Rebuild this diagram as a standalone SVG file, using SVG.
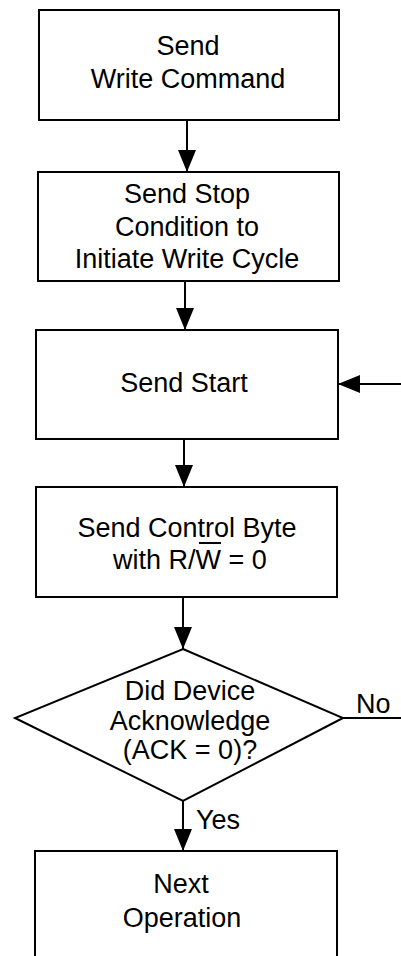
<svg xmlns="http://www.w3.org/2000/svg" width="401" height="956" viewBox="0 0 401 956">
<defs>
<marker id="ah" markerUnits="userSpaceOnUse" markerWidth="22" markerHeight="18" refX="22" refY="9" orient="auto">
<path d="M0,0 L22,9 L0,18 Z" fill="#000"/>
</marker>
<style>
.box{fill:#fff;stroke:#000;stroke-width:2}
.t{font-family:"Liberation Sans",Arial,sans-serif;font-size:27px;fill:#000;text-anchor:middle}
.l{font-family:"Liberation Sans",Arial,sans-serif;font-size:27px;fill:#000}
.c{stroke:#000;stroke-width:2;fill:none}
</style>
</defs>
<rect width="401" height="956" fill="#fff"/>
<g id="n1">
<rect class="box" x="39" y="10" width="300" height="110"/>
<text class="t" x="188" y="55">Send</text>
<text class="t" x="188" y="88">Write Command</text>
</g>
<g id="n2">
<rect class="box" x="38" y="172" width="301" height="109"/>
<text class="t" x="187" y="203">Send Stop</text>
<text class="t" x="187" y="236">Condition to</text>
<text class="t" x="187" y="268">Initiate Write Cycle</text>
</g>
<g id="n3">
<rect class="box" x="36" y="330" width="302" height="109"/>
<text class="t" x="184" y="392">Send Start</text>
</g>
<g id="n4">
<rect class="box" x="36" y="487" width="301" height="110"/>
<text class="t" x="187" y="537">Send Control Byte</text>
<text class="t" x="190" y="569">with R/W = 0</text>
<line x1="199" y1="543" x2="221" y2="543" stroke="#000" stroke-width="2"/>
</g>
<g id="n5">
<polygon class="box" points="183,649 343,718 183,801 15,718"/>
<text class="t" x="190" y="700">Did Device</text>
<text class="t" x="190" y="730">Acknowledge</text>
<text class="t" x="190" y="759">(ACK = 0)?</text>
</g>
<g id="n6">
<rect class="box" x="35" y="851" width="302" height="120"/>
<text class="t" x="181" y="893">Next</text>
<text class="t" x="182" y="927">Operation</text>
</g>
<g id="connectors">
<line class="c" x1="187" y1="120" x2="187" y2="172" marker-end="url(#ah)"/>
<line class="c" x1="185" y1="281" x2="185" y2="330" marker-end="url(#ah)"/>
<line class="c" x1="184" y1="439" x2="184" y2="487" marker-end="url(#ah)"/>
<line class="c" x1="183" y1="597" x2="183" y2="649" marker-end="url(#ah)"/>
<line class="c" x1="183" y1="801" x2="183" y2="851" marker-end="url(#ah)"/>
<line class="c" x1="401" y1="384" x2="338" y2="384" marker-end="url(#ah)"/>
<line class="c" x1="343" y1="718" x2="401" y2="718"/>
<text class="l" x="356" y="713">No</text>
<text class="l" x="196" y="829">Yes</text>
</g>
</svg>
